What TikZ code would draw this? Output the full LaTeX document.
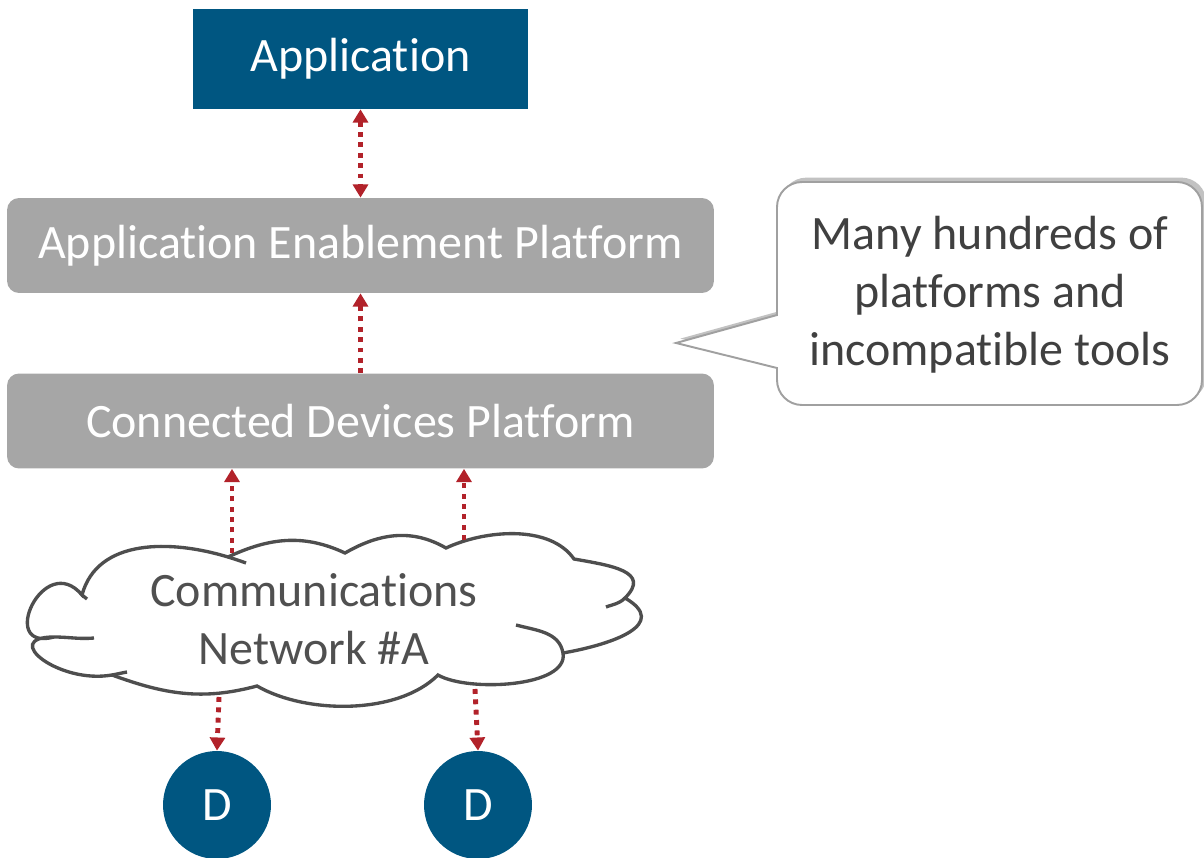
\documentclass[tikz,border=0pt]{standalone}
\usepackage{fontspec}
\setmainfont{Carlito}[RawFeature={-liga;-clig;-calt;-dlig}]
\usetikzlibrary{arrows.meta,shadows}
\definecolor{appblue}{RGB}{0,86,129}
\definecolor{boxgray}{RGB}{166,166,166}
\definecolor{arrred}{RGB}{178,34,42}
\definecolor{txtgray}{RGB}{64,64,64}
\definecolor{cloudtxt}{RGB}{80,80,80}
\definecolor{cloudline}{RGB}{78,78,78}
\definecolor{callgray}{RGB}{160,160,160}
\begin{document}
\begin{tikzpicture}[x=0.02cm,y=0.02cm,
  font=\fontsize{27.3}{33}\selectfont,
  bluebox/.style={fill=appblue, text=white, minimum width=6.7cm, minimum height=2cm, inner sep=0pt},
  graybox/.style={fill=boxgray, text=white, rounded corners=0.24cm, minimum width=14.14cm, minimum height=1.9cm, inner sep=0pt},
  dev/.style={circle, fill=appblue, text=white, minimum size=2.16cm, inner sep=0pt},
  arr/.style={draw=arrred, line width=2.8pt, dash pattern=on 2.8pt off 3.1pt, -{Triangle[width=8.5pt,length=7.5pt]}},
  darr/.style={arr, {Triangle[width=8.5pt,length=7.5pt]}-{Triangle[width=8.5pt,length=7.5pt]}},
  cloudedge/.style={draw=cloudline, line width=1.9pt, line join=miter},
  callout/.style={draw=callgray, line width=1.1pt, fill=white, drop shadow={shadow xshift=2.5pt, shadow yshift=2.5pt, opacity=0.4, fill=black!60}}
]
\useasboundingbox (0,0) rectangle (1204,-858);

% boxes
\node[bluebox] (app) at (360.5,-59) {\raisebox{-3pt}{Application}};
\node[graybox] (aep) at (360.5,-245.5) {\raisebox{-2pt}{Application Enablement Platform}};
\node[graybox] (cdp) at (360.5,-421) {\raisebox{-2pt}{Connected Devices Platform}};

% callout
\path[callout] (777,-315) -- (777,-207) arc[start angle=180, end angle=90, radius=0.5cm]
  -- (1177,-182) arc[start angle=90, end angle=0, radius=0.5cm]
  -- (1202,-380) arc[start angle=0, end angle=-90, radius=0.5cm]
  -- (802,-405) arc[start angle=270, end angle=180, radius=0.5cm]
  -- (777,-368) -- (676,-343) -- cycle;
\node[align=center, text=txtgray] (note) at (990,-295) {Many hundreds of\\platforms and\\incompatible tools};

% cloud
\path[cloudedge, fill=white] (82,-595)
  to[out=75,in=163] (228,-557)
  to[out=25,in=155] (345,-553)
  to[out=30,in=150] (446,-548)
  to[out=25,in=125,looseness=0.85] (574,-559)
  to[out=-10,in=45,looseness=1.5] (625,-598)
  to[out=-30,in=10,looseness=1.6] (563,-653)
  to[out=-80,in=-30,looseness=0.7] (438,-675)
  to[out=-135,in=-30,looseness=0.8] (257,-686)
  to[out=-165,in=-20] (112,-675)
  to[out=190,in=180,looseness=2] (54,-637)
  to[out=195,in=130,looseness=3] (82,-595) -- cycle;
\draw[cloudedge] (228,-557) to[out=-17,in=160] (246,-563);
\draw[cloudedge] (625,-598) to[out=-135,in=20] (606,-607);
\draw[cloudedge] (563,-653) to[out=100,in=-15] (516,-625);
\draw[cloudedge] (112,-675) to[out=10,in=190] (127,-672);
\draw[cloudedge] (54,-637) to[out=0,in=185] (94,-638);
\draw[cloudedge] (82,-595) -- (87,-599);
\node[align=center, text=cloudtxt] (net) at (314,-619) {Communications\\Network \#A};

% devices
\node[dev] (d1) at (217,-805) {D};
\node[dev] (d2) at (478,-805) {D};

% connectors
\coordinate (n1) at (232,-553);
\coordinate (n2) at (464,-540);
\coordinate (n3) at (219,-697);
\coordinate (n4) at (475,-689);
\draw[darr] (app.south) -- (aep.north);
\draw[arr] (cdp.north) -- (aep.south);
\draw[arr] (n1) -- (n1 |- cdp.south);
\draw[arr] (n2) -- (n2 |- cdp.south);
\draw[arr] (n3) -- (d1.north);
\draw[arr] (n4) -- (d2.north);
\end{tikzpicture}
\end{document}
